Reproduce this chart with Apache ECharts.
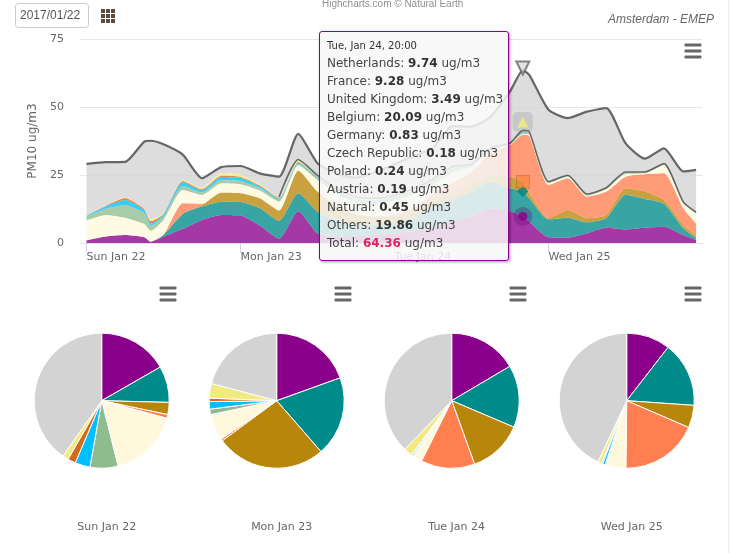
<!DOCTYPE html>
<html><head><meta charset="utf-8">
<style>html,body{margin:0;padding:0;background:#fff;overflow:hidden}#c{width:730px;height:553px}</style>
<script src="https://cdn.jsdelivr.net/npm/echarts@6/dist/echarts.min.js"></script>
</head><body><div id="c"></div>
<script>
const hours=[0,3,6,9,10,12,15,18,21,24,27,30,33,36,39,42,45,48,51,54,57,60,63,66,68,69,72,75,78,81,84,87,90,93,95];
const tickHours=[0,24,48,72];
const tickLabels=['Sun Jan 22','Mon Jan 23','Tue Jan 24','Wed Jan 25'];
const yTicks=[0,25,50,75];
const names=['Netherlands','France','United Kingdom','Belgium','Germany','Czech Republic','Poland','Austria','Natural','Others'];
const colors=['#8B008B','#008B8B','#B8860B','#FF7F50','#FFF8DC','#8FBC8F','#00BFFF','#D2691E','#F2EA80','#D3D3D3'];
const netherlands=[1.0,2.4,2.9,2.1,.5,2.3,5.2,8.5,10.3,10.1,6.4,1.6,11.7,3.6,2.5,2.5,3,3.5,4.5,6,7.9,9.7,12.8,11.8,9.74,7.9,2.1,2.0,3.6,5.6,5.0,5.6,6.0,2.9,1.1];
const france=[0,0,0,0,0,.7,5.5,4.9,4.9,5.0,6.4,6.6,6.6,7.9,6,4,3.5,4,4.5,7.4,7.9,9.2,9.8,8.3,9.28,8.5,6.6,7.3,4,3.5,12.7,10.6,8.4,2.5,.6];
const uk=[0,0,0,0,0,0,.1,.6,3.3,3.2,3.6,3.7,8.3,7.4,5,4,3,2.5,2.5,2.1,2.7,2.6,2.4,4.3,3.49,1.9,.4,2.8,1.5,1.2,2.4,2.7,1.4,1.2,.9];
const belgium=[0,0,0,0,0,0,3.8,.4,.1,.1,.1,.1,.1,0,0,.2,.3,.5,1.5,2.5,3.5,4.5,8,11.6,17.29,21.1,12.2,11.7,7.9,8.6,4.3,6.4,9.8,6.2,4.6];
const germany=[7.3,7.9,6.4,4.9,4.0,5.5,4.9,3.3,3.4,3.2,2.8,3.2,2,4.3,4.5,4.3,4.7,5,5,3.5,4,2,1,.3,.3,.6,.7,.6,.4,.9,1,.3,3.1,1.8,3.7];
const czech=[1.3,2.3,4.7,4,1.8,1.2,1.5,.9,1.2,1.2,.9,.7,.4,.6,.6,.6,.7,.8,.8,.8,.8,.5,.5,.1,.4,.3,.2,.2,.2,.2,.3,.1,.2,.2,.1];
const poland=[.4,.8,1.8,1,.8,.7,1.3,.8,1.1,1.1,.7,.5,.5,.4,.4,.4,.4,.4,.4,.4,.4,.2,.2,.1,.3,.2,.1,.1,.1,.1,.1,.1,.1,.1,.1];
const austria=[0,.3,.7,.5,.9,.3,.5,.4,.4,.4,.3,.2,.3,.2,.2,.2,.2,.2,.2,.2,.2,.1,.1,0,.2,.1,.1,.1,.1,.1,.1,.1,.1,.1,.1];
const natural=[.1,.1,.3,.2,.8,.2,.4,.5,.9,.9,.4,.3,.8,.5,.6,.6,.6,.6,.6,.6,.6,.2,.2,.2,.4,.3,.2,.1,.2,.1,.2,.2,.1,.1,.1];
const others=[19,15.9,13,24.6,28.8,25.4,9.3,3.5,2.3,3.1,4,7.5,9.4,4.4,5.7,7.2,9.6,11.5,12,11.5,15,13.8,11.5,19,22.1,20.9,26.4,20.9,30.3,29.1,10.6,5.5,5.5,11.1,15.6];
const total=[29.1,29.7,29.8,37.3,37.6,36.3,32.5,23.8,27.9,28.3,25.6,24.4,40.1,29.3,25.5,24,26,29,32,35,43,42.8,46.5,55.7,63.5,61.8,49,45.9,48.3,49.6,36.7,31,34.8,26.3,26.9];
const layers=[netherlands,france,uk,belgium,germany,czech,poland,austria,natural,others];
const tipHeader='Tue, Jan 24, 20:00';
const tipHour=68;
const tipValues=[9.74,9.28,3.49,20.09,0.83,0.18,0.24,0.19,0.45,19.86];
const tipTotal=64.36;
const pieTitles=['Sun Jan 22','Mon Jan 23','Tue Jan 24','Wed Jan 25'];
const pieSun=[16.7,8.7,2.9,0.9,16.9,6.7,3.6,1.9,1.4,40.3];
const pieMon=[19.5,19.1,26.3,0.5,6.3,1.3,1.8,0.8,3.5,20.9];
const pieTue=[16.5,14.9,13.1,12.9,2.1,0.2,0.3,0.2,2.0,37.8];
const pieWed=[10.5,15.6,5.4,18.7,4.7,0.3,0.6,0.3,0.9,43.0];
const pies=[pieSun,pieMon,pieTue,pieWed];

// hourly category axis, one leading slot so gridlines start left of the first tick
const axisHours=[];
for(let h=-1;h<=96;h++) axisHours.push(String(h));
const at=h=>String(h);
const pieCx=[101.7,276.7,451.7,626.7];
const curve=0.2;
const series=[];
layers.forEach((arr,i)=>series.push({type:'line',name:names[i],stack:'pm',silent:true,smooth:curve,
  data:hours.map((h,j)=>[at(h),arr[j]]),symbol:'none',lineStyle:{width:0},
  areaStyle:{color:colors[i],opacity:0.78},z:2}));
const stackTopFrom=30;
series.push({type:'line',silent:true,symbol:'none',smooth:curve,z:3,lineStyle:{color:'#666',width:1.6},
  data:hours.map((h,j)=>[at(h),h<stackTopFrom?null:layers.slice(0,9).reduce((s,a)=>s+a[j],0)])});
series.push({type:'line',name:'Total',silent:true,symbol:'none',smooth:curve,z:4,lineStyle:{color:'#666',width:2.2},
  data:hours.map((h,j)=>[at(h),total[j]])});
const cum=i=>tipValues.slice(0,i+1).reduce((s,v)=>s+v,0);
const markers=[
 {v:cum(0),sym:'circle',size:9,c:'#8B008B',halo:19,hc:'rgba(90,0,110,0.35)',hs:'circle'},
 {v:cum(1),sym:'diamond',size:11,c:'#008B8B',halo:11,hc:'rgba(0,70,100,0.35)',hs:'diamond'},
 {v:cum(2),sym:'rect',size:13,c:'rgba(255,127,40,0.65)',bc:'rgba(110,100,60,0.45)',halo:0},
 {v:cum(8),sym:'triangle',size:11,c:'#F5F07A',halo:20,hc:'rgba(130,130,130,0.28)',hs:'roundRect'},
 {v:tipTotal,sym:'triangle',rot:180,size:13,c:'#dddddd',bc:'#666',bw:2,halo:0}];
let tipSeries=-1;
markers.forEach(m=>{
  if(m.halo) series.push({type:'scatter',silent:true,z:5,symbol:m.hs,symbolSize:m.halo,
    itemStyle:{color:m.hc},data:[[at(tipHour),m.v]]});
  if(tipSeries<0) tipSeries=series.length;
  series.push({type:'scatter',silent:true,z:6,symbol:m.sym,symbolSize:m.size,symbolRotate:m.rot||0,
    itemStyle:{color:m.c,borderColor:m.bc||m.c,borderWidth:m.bw||(m.bc?1:0)},data:[[at(tipHour),m.v]]});
});
pies.forEach((arr,i)=>series.push({type:'pie',silent:true,center:[pieCx[i],400.7],radius:[0,67.5],startAngle:90,clockwise:true,
  animation:false,label:{show:false},labelLine:{show:false},itemStyle:{borderColor:'#fff',borderWidth:1},
  data:arr.map((v,j)=>({name:names[j],value:v,itemStyle:{color:colors[j]}}))}));

function burger(cx,cy){
  return [-6,0,6].map(d=>({type:'rect',silent:true,z:20,shape:{x:cx-8.5,y:cy+d-1.5,width:17,height:3,r:1},style:{fill:'#666'}}));
}
const graphics=[];
[[693,51],[168,294],[343,294],[518,294],[693,294]].forEach(p=>graphics.push(...burger(p[0],p[1])));
graphics.push({type:'rect',silent:true,shape:{x:15.5,y:3.5,width:73,height:24,r:3},style:{fill:'#fff',stroke:'#ccc',lineWidth:1}});
graphics.push({type:'text',silent:true,x:20,y:15.5,style:{text:'2017/01/22',fill:'#555',font:'12px "Liberation Sans"',textVerticalAlign:'middle'}});
for(let r=0;r<3;r++)for(let c=0;c<3;c++)
  graphics.push({type:'rect',silent:true,shape:{x:101+c*5,y:9+r*5,width:4,height:4},style:{fill:'#5b4b3d'}});
graphics.push({type:'text',silent:true,x:322,y:4,style:{text:'Highcharts.com © Natural Earth',fill:'#909090',font:'10px "Liberation Sans"',textVerticalAlign:'middle'}});
graphics.push({type:'text',silent:true,x:714,y:20,style:{text:'Amsterdam - EMEP',fill:'#666',font:'italic 12px "Liberation Sans"',textAlign:'right',textVerticalAlign:'middle'}});
graphics.push({type:'rect',silent:true,shape:{x:728,y:0,width:1,height:553},style:{fill:'#eeeeee'}});

function tipHtml(){
  let s='<div style="font-size:10px;line-height:14px;margin-bottom:1px;color:#333">'+tipHeader+'</div>';
  names.forEach((n,i)=>{s+='<div style="line-height:18px">'+n+': <b style="color:#333">'+tipValues[i].toFixed(2)+'</b> ug/m3</div>';});
  s+='<div style="line-height:18px">Total: <b style="color:#e0245e">'+tipTotal.toFixed(2)+'</b> ug/m3</div>';
  return s;
}
const isTick=v=>tickHours.includes(+v);
const chart=echarts.init(document.getElementById('c'),null,{renderer:'canvas'});
chart.setOption({
  animation:false,backgroundColor:'#fff',
  grid:{left:80.1,right:27.5,top:39,height:204,containLabel:false},
  xAxis:{type:'category',data:axisHours,boundaryGap:false,splitLine:{show:false},
    axisLine:{show:true,onZero:false,lineStyle:{color:'#dfe3ee'}},
    axisTick:{show:true,interval:(i,v)=>isTick(v),length:10,lineStyle:{color:'#ccd6eb'}},
    axisLabel:{interval:(i,v)=>isTick(v),align:'left',margin:9,color:'#666',fontFamily:'"DejaVu Sans"',fontSize:11,
      formatter:v=>tickLabels[tickHours.indexOf(+v)]||''}},
  yAxis:{type:'value',min:yTicks[0],max:yTicks[3],interval:25,name:'PM10 ug/m3',nameLocation:'middle',nameGap:35,
    nameTextStyle:{color:'#666',fontFamily:'"DejaVu Sans"',fontSize:12},
    axisLine:{show:false},axisTick:{show:false},splitLine:{lineStyle:{color:'#e6e6e6'}},
    axisLabel:{margin:16,color:'#666',fontFamily:'"DejaVu Sans"',fontSize:11}},
  title:pieTitles.map((t,i)=>({text:t,left:pieCx[i],top:517,textAlign:'center',
    textStyle:{color:'#666',fontFamily:'"DejaVu Sans"',fontSize:11,fontWeight:'normal'}})),
  tooltip:{trigger:'item',alwaysShowContent:true,transitionDuration:0,position:[319,31],
    backgroundColor:'rgba(247,247,247,0.85)',borderColor:'#8B008B',borderWidth:1,padding:[7,7,5,7],
    textStyle:{color:'#444',fontFamily:'"DejaVu Sans"',fontSize:12},
    extraCssText:'width:174px;height:216px;box-sizing:content-box;border-radius:3px;box-shadow:1px 1px 3px rgba(0,0,0,0.4);white-space:nowrap;',
    formatter:tipHtml},
  graphic:graphics,
  series:series
});
chart.dispatchAction({type:'showTip',seriesIndex:tipSeries,dataIndex:0});
</script></body></html>
